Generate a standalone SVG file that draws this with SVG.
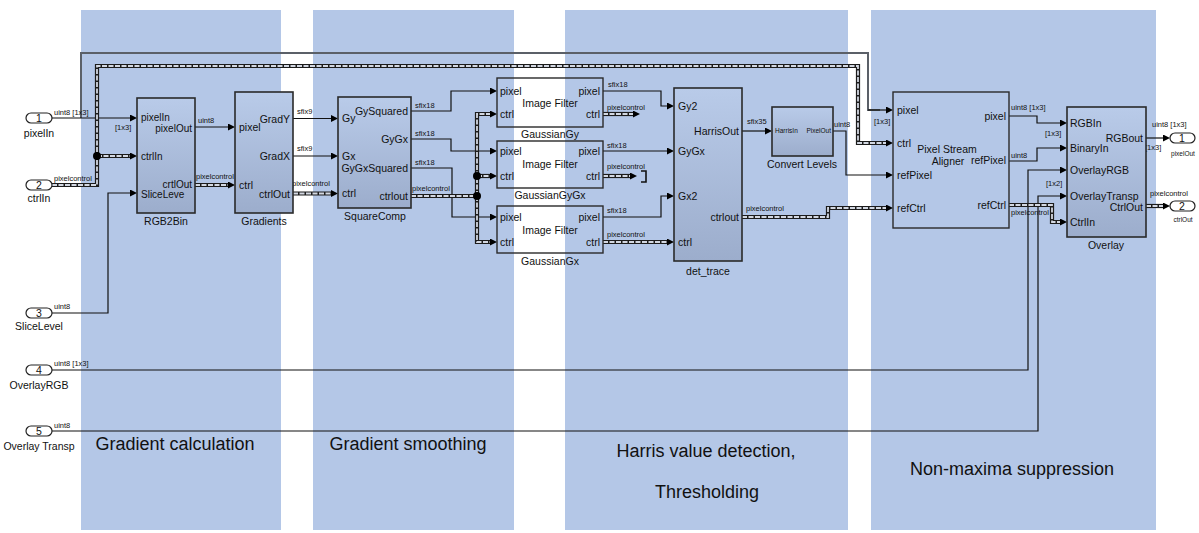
<svg xmlns="http://www.w3.org/2000/svg" width="1199" height="533" viewBox="0 0 1199 533">
<style>
.sig{fill:none;stroke:#111;stroke-width:1.2}
.gray{fill:none;stroke:#5b6068;stroke-width:2}
.bus{fill:none;stroke:#1c1c1c;stroke-width:4.2}
.busi{fill:none;stroke:#d3d8e2;stroke-width:1.8;stroke-dasharray:5 1.5}
.blk{stroke:#2a2a2a;stroke-width:1.6}
.flt{fill:none;stroke:#2a2a2a;stroke-width:1.4}
.port{fill:#fff;stroke:#222;stroke-width:1.2}
text{font-family:"Liberation Sans",Arial,sans-serif;fill:#111}
.p{font-size:10.5px}
.q{font-size:10px}
.s{font-size:7.5px}
.xs{font-size:6.5px}
.m{text-anchor:middle}
.e{text-anchor:end}
.big{font-size:18px;text-anchor:middle}
.panel{fill:#b4c7e7}
</style>
<defs>
<marker id="a" markerWidth="7" markerHeight="7" refX="0" refY="3.5" orient="auto" markerUnits="userSpaceOnUse"><path d="M0,0 L7,3.5 L0,7z" fill="#000"/></marker>
<linearGradient id="g" x1="0" y1="0" x2="0" y2="1"><stop offset="0" stop-color="#b9cbe9"/><stop offset="1" stop-color="#9cadcc"/></linearGradient>
</defs>
<g id="panels">
<rect class="panel" x="81" y="10" width="200" height="520"/>
<rect class="panel" x="313" y="10" width="201" height="520"/>
<rect class="panel" x="565" y="10" width="283" height="520"/>
<rect class="panel" x="871" y="10" width="285" height="520"/>
<text class="big" x="175" y="450">Gradient calculation</text>
<text class="big" x="408" y="450">Gradient smoothing</text>
<text class="big" x="706" y="457">Harris value detection,</text>
<text class="big" x="707" y="498">Thresholding</text>
<text class="big" x="1012" y="475">Non-maxima suppression</text>
</g>
<g id="connectors">
<path class="gray" d="M81,118 V53 H868 V110 H880"/>
<path class="sig" d="M868,110 H886" marker-end="url(#a)"/>
<path class="sig" d="M52,118 H130" marker-end="url(#a)"/>
<path class="bus" d="M52,185 H97 V66 H858 V143 H886" marker-end="url(#a)"/>
<path class="busi" d="M52,185 H97 V66 H858 V143 H886"/>
<path class="bus" d="M97,156 H130" marker-end="url(#a)"/>
<path class="busi" d="M97,156 H130"/>
<circle cx="97" cy="156" r="4" fill="#000"/>
<path class="sig" d="M52,313 H108 V193 H130" marker-end="url(#a)"/>
<path class="sig" d="M195,127 H228" marker-end="url(#a)"/>
<path class="bus" d="M195,185 H228" marker-end="url(#a)"/>
<path class="busi" d="M195,185 H228"/>
<path class="sig" d="M293,118.5 H331" marker-end="url(#a)"/>
<path class="sig" d="M293,156 H331" marker-end="url(#a)"/>
<path class="bus" d="M293,193.5 H331" marker-end="url(#a)"/>
<path class="busi" d="M293,193.5 H331"/>
<path class="sig" d="M411,111 H451 V91 H490" marker-end="url(#a)"/>
<path class="sig" d="M411,139 H451 V151 H490" marker-end="url(#a)"/>
<path class="sig" d="M411,168 H452 V217 H490" marker-end="url(#a)"/>
<path class="bus" d="M411,196 H477"/>
<path class="bus" d="M477,196 V114 H490" marker-end="url(#a)"/>
<path class="bus" d="M477,196 V242 H490" marker-end="url(#a)"/>
<path class="bus" d="M477,176 H490" marker-end="url(#a)"/>
<path class="busi" d="M411,196 H477"/>
<path class="busi" d="M477,196 V114 H490"/>
<path class="busi" d="M477,196 V242 H490"/>
<path class="busi" d="M477,176 H490"/>
<circle cx="477" cy="176" r="4" fill="#000"/>
<circle cx="477" cy="196" r="4" fill="#000"/>
<path class="sig" d="M603,91 H661 V106 H667" marker-end="url(#a)"/>
<path class="sig" d="M603,151 H667" marker-end="url(#a)"/>
<path class="sig" d="M603,217 H661 V196 H667" marker-end="url(#a)"/>
<path class="bus" d="M603,114 H633" marker-end="url(#a)"/>
<path class="busi" d="M603,114 H633"/>
<path class="bus" d="M603,176 H630" marker-end="url(#a)"/>
<path class="busi" d="M603,176 H630"/>
<path d="M641,171 H646 V182 H641" fill="none" stroke="#111" stroke-width="1.6"/>
<path class="bus" d="M603,242 H667" marker-end="url(#a)"/>
<path class="busi" d="M603,242 H667"/>
<path class="sig" d="M742,131 H765" marker-end="url(#a)"/>
<path class="bus" d="M742,217 H828 V208 H886" marker-end="url(#a)"/>
<path class="busi" d="M742,217 H828 V208 H886"/>
<path class="sig" d="M833,131 H846 V175 H886" marker-end="url(#a)"/>
<path class="sig" d="M1009,116 H1037 V123 H1060" marker-end="url(#a)"/>
<path class="sig" d="M1009,161 H1037 V148 H1060" marker-end="url(#a)"/>
<path class="sig" d="M52,370 H1028 V170 H1060" marker-end="url(#a)"/>
<path class="sig" d="M52,431 H1038 V196 H1060" marker-end="url(#a)"/>
<path class="bus" d="M1009,205 H1052 V222 H1060" marker-end="url(#a)"/>
<path class="busi" d="M1009,205 H1052 V222 H1060"/>
<path class="sig" d="M1146,138 H1163" marker-end="url(#a)"/>
<path class="bus" d="M1146,206 H1163" marker-end="url(#a)"/>
<path class="busi" d="M1146,206 H1163"/>
<text class="s" x="54" y="115">uint8 [1x3]</text>
<text class="s" x="115" y="130">[1x3]</text>
<text class="s" x="54" y="181">pixelcontrol</text>
<text class="s" x="54" y="309">uint8</text>
<text class="s" x="54" y="366">uint8 [1x3]</text>
<text class="s" x="54" y="428">uint8</text>
<text class="s" x="198" y="123">uint8</text>
<text class="s" x="196" y="179">pixelcontrol</text>
<text class="s" x="297" y="114">sfix9</text>
<text class="s" x="297" y="151">sfix9</text>
<text class="s" x="292" y="186">pixelcontrol</text>
<text class="s" x="415" y="108">sfix18</text>
<text class="s" x="415" y="136">sfix18</text>
<text class="s" x="415" y="165">sfix18</text>
<text class="s" x="412" y="191">pixelcontrol</text>
<text class="s" x="608" y="87">sfix18</text>
<text class="s" x="607" y="110">pixelcontrol</text>
<text class="s" x="607" y="148">sfix18</text>
<text class="s" x="607" y="169">pixelcontrol</text>
<text class="s" x="607" y="213">sfix18</text>
<text class="s" x="607" y="237">pixelcontrol</text>
<text class="s" x="747" y="124">sfix35</text>
<text class="s" x="746" y="211">pixelcontrol</text>
<text class="s" x="834" y="127">uint8</text>
<text class="s" x="874" y="124">[1x3]</text>
<text class="s" x="1011" y="110">uint8 [1x3]</text>
<text class="s" x="1045" y="136">[1x3]</text>
<text class="s" x="1011" y="158">uint8</text>
<text class="s" x="1046" y="186">[1x2]</text>
<text class="s" x="1011" y="215">pixelcontrol</text>
<text class="s" x="1152" y="127">uint8 [1x3]</text>
<text class="s" x="1145" y="150">[1x3]</text>
<text class="s" x="1150" y="196">pixelcontrol</text>
</g>
<g id="in1"><rect class="port" x="26" y="113" width="26" height="10" rx="5"/><text class="p m" x="39" y="122">1</text><text class="p m" x="39" y="137">pixelIn</text></g>
<g id="in2"><rect class="port" x="26" y="180" width="26" height="10" rx="5"/><text class="p m" x="39" y="189">2</text><text class="p m" x="39" y="202">ctrlIn</text></g>
<g id="in3"><rect class="port" x="26" y="308" width="26" height="10" rx="5"/><text class="p m" x="39" y="317">3</text><text class="p m" x="39" y="330">SliceLevel</text></g>
<g id="in4"><rect class="port" x="26" y="365" width="26" height="10" rx="5"/><text class="p m" x="39" y="374">4</text><text class="p m" x="39" y="389">OverlayRGB</text></g>
<g id="in5"><rect class="port" x="26" y="426" width="26" height="10" rx="5"/><text class="p m" x="39" y="435">5</text><text class="p m" x="39" y="450">Overlay Transp</text></g>
<g id="RGB2Bin"><rect class="blk" x="137" y="98" width="58" height="115" fill="url(#g)"/>
<text class="q" x="141" y="121">pixelIn</text><text class="q" x="141" y="160">ctrlIn</text><text class="q" x="141" y="198">SliceLeve</text>
<text class="q e" x="192" y="132">pixelOut</text><text class="q e" x="192" y="188">crtlOut</text>
<text class="p m" x="166" y="225">RGB2Bin</text></g>
<g id="Gradients"><rect class="blk" x="235" y="92" width="58" height="121" fill="url(#g)"/>
<text class="p" x="239" y="131">pixel</text><text class="p" x="239" y="189">ctrl</text>
<text class="p e" x="290" y="123">GradY</text><text class="p e" x="290" y="160">GradX</text><text class="p e" x="290" y="198">ctrlOut</text>
<text class="p m" x="264" y="225">Gradients</text></g>
<g id="SquareComp"><rect class="blk" x="338" y="97" width="73" height="111" fill="url(#g)"/>
<text class="p" x="342" y="122">Gy</text><text class="p" x="342" y="160">Gx</text><text class="p" x="342" y="197">ctrl</text>
<text class="p e" x="408" y="115">GySquared</text><text class="p e" x="408" y="143">GyGx</text><text class="p e" x="408" y="172">GyGxSquared</text><text class="p e" x="408" y="200">ctrlout</text>
<text class="p m" x="375" y="220">SquareComp</text></g>
<g id="GaussianGy"><rect class="flt" x="497" y="78" width="106" height="49"/>
<text class="p" x="500" y="95">pixel</text><text class="p" x="500" y="118">ctrl</text>
<text class="p e" x="600" y="95">pixel</text><text class="p e" x="600" y="118">ctrl</text>
<text class="p m" x="550" y="107">Image Filter</text><text class="p m" x="550" y="138">GaussianGy</text></g>
<g id="GaussianGyGx"><rect class="flt" x="497" y="141" width="106" height="47"/>
<text class="p" x="500" y="155">pixel</text><text class="p" x="500" y="180">ctrl</text>
<text class="p e" x="600" y="155">pixel</text><text class="p e" x="600" y="180">ctrl</text>
<text class="p m" x="550" y="168">Image Filter</text><text class="p m" x="550" y="199">GaussianGyGx</text></g>
<g id="GaussianGx"><rect class="flt" x="497" y="206" width="106" height="47"/>
<text class="p" x="500" y="221">pixel</text><text class="p" x="500" y="246">ctrl</text>
<text class="p e" x="600" y="221">pixel</text><text class="p e" x="600" y="246">ctrl</text>
<text class="p m" x="550" y="234">Image Filter</text><text class="p m" x="550" y="265">GaussianGx</text></g>
<g id="det_trace"><rect class="blk" x="674" y="88" width="68" height="173" fill="url(#g)"/>
<text class="p" x="678" y="110">Gy2</text><text class="p" x="678" y="155">GyGx</text><text class="p" x="678" y="200">Gx2</text><text class="p" x="678" y="246">ctrl</text>
<text class="p e" x="739" y="135">HarrisOut</text><text class="p e" x="739" y="221">ctrlout</text>
<text class="p m" x="708" y="275">det_trace</text></g>
<g id="ConvertLevels"><rect class="blk" x="772" y="107" width="61" height="49" fill="url(#g)"/>
<text class="xs" x="775" y="133">HarrisIn</text><text class="xs e" x="831" y="133">PixelOut</text>
<text class="p m" x="802" y="168">Convert Levels</text></g>
<g id="PixelStreamAligner"><rect class="flt" x="893" y="92" width="116" height="136"/>
<text class="p" x="897" y="114">pixel</text><text class="p" x="897" y="147">ctrl</text><text class="p" x="897" y="179">refPixel</text><text class="p" x="897" y="212">refCtrl</text>
<text class="p e" x="1006" y="120">pixel</text><text class="p e" x="1006" y="164">refPixel</text><text class="p e" x="1006" y="209">refCtrl</text>
<text class="p m" x="947" y="153">Pixel Stream</text><text class="p m" x="948" y="165">Aligner</text></g>
<g id="Overlay"><rect class="blk" x="1067" y="107" width="79" height="130" fill="url(#g)"/>
<text class="p" x="1070" y="127">RGBIn</text><text class="p" x="1070" y="152">BinaryIn</text><text class="p" x="1070" y="174">OverlayRGB</text><text class="p" x="1070" y="200">OverlayTransp</text><text class="p" x="1070" y="226">CtrlIn</text>
<text class="p e" x="1143" y="142">RGBout</text><text class="p e" x="1143" y="211">CtrlOut</text>
<text class="p m" x="1106" y="249">Overlay</text></g>
<g id="out1"><rect class="port" x="1170" y="133" width="25" height="10" rx="5"/><text class="p m" x="1182" y="142">1</text><text class="xs m" x="1183" y="156">pixelOut</text></g>
<g id="out2"><rect class="port" x="1170" y="201" width="25" height="10" rx="5"/><text class="p m" x="1182" y="210">2</text><text class="xs m" x="1183" y="222">ctrlOut</text></g>
</svg>
